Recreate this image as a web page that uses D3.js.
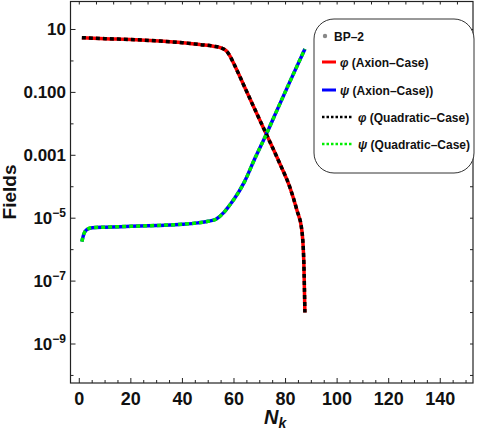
<html><head>
<title>Fields vs N_k</title>
<script src="https://d3js.org/d3.v7.min.js"></script>
<style>
  body { margin: 0; background: white; }
  text { font-family: "Liberation Sans", Arial, sans-serif; font-weight: bold; fill: #111; }
  .frame line, .frame rect { stroke: #222; }
</style>
</head>
<body>
<svg id="chart" width="478" height="438"></svg>
<script>

// ---- data ----
const phiN   = [1, 10, 20, 31, 40, 47, 52, 55, 57, 58.5, 60, 61.5, 63.4, 67.3, 72.6, 77.8, 81.7, 84.4, 86.3, 87.1, 87.5];
const phiVal = [5.5, 5.1, 4.8, 4.3, 3.8, 3.3, 2.95, 2.6, 2.1, 1.4, 0.8, 0.44, 0.2, 0.04, 4.6e-3, 5.4e-4, 9.5e-5, 1.8e-5, 4.2e-6, 3.7e-7, 1e-8];

const psiN   = [1, 1.8, 3, 5, 10, 20, 30, 40, 46, 50, 53, 56, 58, 60, 64, 68, 72.6, 77, 82, 87.5];
const psiVal = [1.8e-6, 3.2e-6, 4.4e-6, 5.0e-6, 5.2e-6, 5.5e-6, 5.9e-6, 6.4e-6, 7.1e-6, 8.0e-6, 9.3e-6, 1.5e-5, 2.4e-5, 4.0e-5, 1.4e-4, 7.6e-4, 4.8e-3, 0.031, 0.25, 2.4];

const xTicks = [0, 20, 40, 60, 80, 100, 120, 140];
const yTickExp = [1, -1, -3, -5, -7, -9];          // labelled decades
const yTickText = ["10", "0.100", "0.001", null, null, null];

const legendTitle = "BP\u20132";
const legendLabels = [
  { sym: "\u03c6", txt: " (Axion\u2013Case)" },
  { sym: "\u03c8", txt: " (Axion\u2013Case))" },
  { sym: "\u03c6", txt: " (Quadratic\u2013Case)" },
  { sym: "\u03c8", txt: " (Quadratic\u2013Case)" }
];

// ---- layout ----
const svg = d3.select("svg#chart");
const plotLeft = 70.5, plotRight = 473, plotTop = 1.5, plotBottom = 383;

const x = d3.scaleLinear().domain([-3.41, 152.7]).range([plotLeft, plotRight]);
const y = d3.scaleLog().domain([Math.pow(10, -10.24), Math.pow(10, 1.89)]).range([plotBottom, plotTop]);

svg.append("defs").append("clipPath").attr("id", "plotClip")
  .append("rect").attr("x", plotLeft).attr("y", plotTop)
  .attr("width", plotRight - plotLeft).attr("height", plotBottom - plotTop);

// ---- curves ----
const phiData = phiN.map((n, i) => ({ n: n, v: phiVal[i] }));
const psiData = psiN.map((n, i) => ({ n: n, v: psiVal[i] }));

const line = d3.line()
  .x(d => x(d.n))
  .y(d => y(d.v))
  .curve(d3.curveMonotoneX);

const curves = svg.append("g").attr("clip-path", "url(#plotClip)");

const styles = [
  { data: phiData, color: "#ff0000", dash: null },
  { data: psiData, color: "#0000ff", dash: null },
  { data: phiData, color: "#000000", dash: "4,3" },
  { data: psiData, color: "#00ee00", dash: "4,3" }
];

curves.selectAll("path")
  .data(styles)
  .join("path")
    .attr("d", s => line(s.data))
    .attr("fill", "none")
    .attr("stroke", s => s.color)
    .attr("stroke-width", 3.5)
    .attr("stroke-dasharray", s => s.dash);

// ---- frame and ticks ----
const frame = svg.append("g").attr("class", "frame");
frame.append("rect")
  .attr("x", plotLeft).attr("y", plotTop)
  .attr("width", plotRight - plotLeft).attr("height", plotBottom - plotTop)
  .attr("fill", "none").attr("stroke-width", 1.2);

// bottom ticks every 5
d3.range(0, 151, 5).forEach(n => {
  let major = (n % 20 === 0);
  frame.append("line")
    .attr("x1", x(n)).attr("x2", x(n))
    .attr("y1", plotBottom).attr("y2", plotBottom - (major ? 5 : 3));
});
// top ticks
d3.range(0, 151, 20 / 3).forEach(n => {
  frame.append("line")
    .attr("x1", x(n)).attr("x2", x(n))
    .attr("y1", plotTop).attr("y2", plotTop + 3);
});
// left & right ticks, every decade
d3.range(-10, 2).forEach(e => {
  let major = (e % 2 !== 0);
  let yy = y(Math.pow(10, e));
  frame.append("line")
    .attr("x1", plotLeft).attr("x2", plotLeft + (major ? 5 : 3))
    .attr("y1", yy).attr("y2", yy);
  frame.append("line")
    .attr("x1", plotRight).attr("x2", plotRight - 3)
    .attr("y1", yy).attr("y2", yy);
});

// x tick labels
svg.append("g").selectAll("text")
  .data(xTicks)
  .join("text")
    .attr("x", d => x(d))
    .attr("y", 405)
    .attr("text-anchor", "middle")
    .style("font-size", "18px")
    .text(d => d);

// y tick labels
yTickExp.forEach((e, i) => {
  let t = svg.append("text")
    .attr("x", 66)
    .attr("y", y(Math.pow(10, e)) + 6)
    .attr("text-anchor", "end")
    .style("font-size", "17px");
  if (yTickText[i] !== null) {
    t.text(yTickText[i]);
  } else {
    t.append("tspan").text("10");
    t.append("tspan").attr("dy", -7).style("font-size", "12px").text("\u2212" + Math.abs(e));
  }
});

// axis titles
svg.append("text")
  .attr("transform", "translate(16,192) rotate(-90)")
  .attr("text-anchor", "middle")
  .style("font-size", "19px")
  .text("Fields");

let xt = svg.append("text")
  .attr("x", 264).attr("y", 424)
  .style("font-size", "20px").style("font-style", "italic");
xt.append("tspan").text("N");
xt.append("tspan").attr("dy", 4).style("font-size", "14px").text("k");

// ---- legend ----
const legend = svg.append("g");
legend.append("rect")
  .attr("x", 314).attr("y", 19)
  .attr("width", 160).attr("height", 154)
  .attr("rx", 20).attr("ry", 20)
  .attr("fill", "white").attr("stroke", "#333").attr("stroke-width", 1);

legend.append("circle").attr("cx", 325).attr("cy", 36).attr("r", 2.2).attr("fill", "#888");
legend.append("text").attr("x", 334).attr("y", 40.5)
  .style("font-size", "12px").text(legendTitle);

const rowY = [62, 90, 117, 144];
legendLabels.forEach((l, i) => {
  let s = styles[i];
  let dotted = (s.dash !== null);
  legend.append("line")
    .attr("x1", 322).attr("x2", dotted ? 352 : 336)
    .attr("y1", rowY[i]).attr("y2", rowY[i])
    .attr("stroke", s.color)
    .attr("stroke-width", dotted ? 2.5 : 3)
    .attr("stroke-dasharray", dotted ? "2.5,2" : null);
  let t = legend.append("text")
    .attr("x", dotted ? 358 : 340).attr("y", rowY[i] + 4.5)
    .style("font-size", "12px");
  t.append("tspan").style("font-style", "italic").text(l.sym);
  t.append("tspan").text(l.txt);
});

</script>
</body>
</html>
